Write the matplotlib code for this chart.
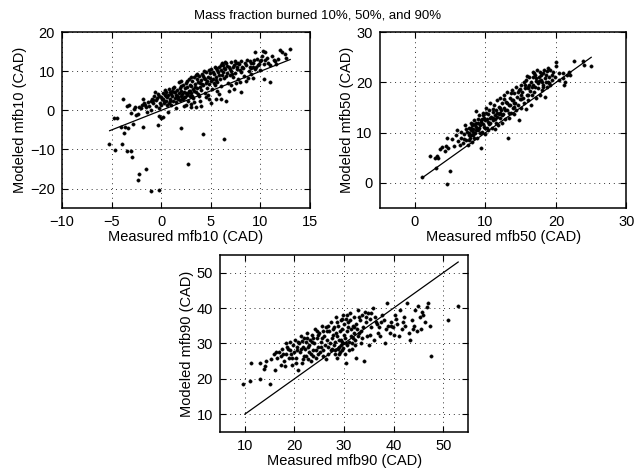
import matplotlib
matplotlib.use("Agg")
import matplotlib.pyplot as plt

plt.rcParams['font.family'] = ['Liberation Sans', 'DejaVu Sans']

title_text = "Mass fraction burned 10%, 50%, and 90%"

# (measured, modeled) pairs
mfb10_points = [
    (-5.3, -8.5), (-4.7, -10.2), (-4.0, -8.7), (-3.5, -10.5), (-3.0, -10.5), (-2.9, -12.0),
    (-2.2, -16.3), (-2.3, -17.8), (-1.5, -15.0), (-1.0, -20.7), (-0.2, -20.4), (2.7, -13.8),
    (6.3, -7.2), (4.2, -6.0), (2.0, -4.5), (-1.8, -4.3), (-3.3, -4.4), (-3.8, -5.7),
    (-2.8, -3.6), (-4.8, -2.0), (-4.5, -2.0), (-4.1, -4.3), (-3.7, -4.2), (-0.3, -3.7),
    (0.0, -2.0), (-0.2, -1.5), (0.2, -1.8), (10.4, 8.0), (11.0, 7.3), (8.0, 4.8),
    (7.0, 6.5), (8.7, 8.3), (4.5, 3.5), (5.0, 2.0), (3.0, 1.7), (4.0, 1.0), (3.5, 0.8),
    (5.5, 3.0), (6.0, 2.8), (7.5, 7.0), (6.5, 2.5), (12.0, 15.5), (12.5, 14.5), (13.0, 15.8),
    (9.5, 15.0), (10.5, 15.0), (10.3, 15.3),
    (-3.5, 1.2), (-3.2, 1.5), (-3.9, 2.9), (-3.0, -0.8), (-2.7, 0.3), (-2.5, -1.2),
    (-2.3, -1.0), (-2.0, 0.5), (-1.8, 3.0), (-1.7, 2.0), (-1.5, 0.8), (-1.4, -0.5),
    (-1.2, 1.2), (-1.0, 2.5), (-1.0, 0.2), (-0.8, 1.8), (-0.7, 3.6), (-0.6, 4.8),
    (-0.5, 1.0), (-0.5, 2.7), (-0.4, 3.2), (-0.3, 4.2), (-0.2, 0.5), (-0.1, 2.0),
    (0.0, 3.5), (0.0, 1.3), (0.1, 2.8), (0.2, 4.5), (0.2, 3.0), (0.3, 1.8), (0.4, 5.2),
    (0.5, 2.4), (0.5, 3.8), (0.6, 3.3), (0.7, 4.0), (0.8, 2.0), (0.8, 5.5), (0.9, 3.0),
    (1.0, 4.3), (1.0, 1.5), (1.1, 3.6), (1.2, 2.5), (1.3, 4.8), (1.3, 6.0), (1.4, 3.2),
    (1.5, 4.0), (1.5, 2.2), (1.6, 5.3), (1.7, 3.5), (1.8, 4.4), (1.8, 7.2), (1.9, 2.7),
    (2.0, 3.8), (2.0, 5.0), (2.0, 7.5), (2.1, 4.2), (2.2, 3.0), (2.2, 6.5), (2.3, 4.8),
    (2.4, 3.5), (2.4, 5.6), (2.5, 7.0), (2.6, 4.0), (2.6, 6.0), (2.7, 2.5), (2.8, 5.0),
    (2.8, 8.0), (2.9, 3.8), (3.0, 6.2), (3.0, 4.5), (3.1, 7.6), (3.2, 5.5), (3.2, 3.2),
    (3.3, 8.5), (3.4, 6.8), (3.5, 4.8), (3.5, 9.0), (3.6, 5.8), (3.7, 7.2), (3.8, 3.8),
    (3.8, 8.8), (3.9, 6.0), (4.0, 7.8), (4.0, 5.2), (4.1, 9.3), (4.2, 6.5), (4.3, 8.2),
    (4.4, 4.5), (4.5, 7.0), (4.5, 9.8), (4.6, 5.8), (4.7, 8.6), (4.8, 6.8), (4.9, 9.5),
    (5.0, 7.5), (5.0, 10.5), (5.1, 5.5), (5.2, 8.0), (5.3, 9.2), (5.4, 6.5), (5.5, 10.8),
    (5.5, 8.5), (5.6, 7.2), (5.7, 9.8), (5.8, 11.2), (5.9, 8.0), (6.0, 10.2), (6.0, 6.2),
    (6.1, 9.0), (6.2, 11.5), (6.3, 8.3), (6.4, 10.5), (6.5, 12.0), (6.6, 9.5), (6.7, 7.0),
    (6.8, 11.0), (6.9, 9.0), (7.0, 12.3), (7.0, 10.0), (7.2, 8.5), (7.3, 11.5), (7.4, 9.5),
    (7.5, 12.0), (7.6, 10.5), (7.7, 8.0), (7.8, 11.8), (8.0, 9.8), (8.0, 12.5), (8.2, 10.8),
    (8.3, 8.8), (8.5, 11.5), (8.6, 13.0), (8.8, 10.0), (9.0, 12.0), (9.0, 9.3), (9.2, 11.0),
    (9.4, 12.8), (9.5, 10.5), (9.7, 13.2), (9.8, 11.5), (10.0, 12.5), (10.0, 10.2),
    (10.2, 14.0), (10.4, 11.8), (10.5, 12.8), (10.7, 13.5), (11.0, 11.5), (11.2, 13.8),
    (11.5, 12.5), (11.8, 13.2), (12.2, 14.8), (8.5, 7.5), (9.3, 8.2), (7.3, 5.5), (6.8, 5.0),
    (4.8, 3.0), (5.8, 4.2), (3.0, 0.8), (2.5, 1.5), (1.5, 0.5), (0.7, -0.5),
    (-2.2, 0.8), (-1.6, 1.5), (-0.9, 3.0), (0.3, 2.5), (0.9, 4.8), (1.4, 4.6), (2.1, 2.9),
    (2.7, 4.4), (3.3, 5.0), (3.9, 7.0), (4.4, 8.0), (5.3, 7.0), (6.2, 9.8), (7.1, 9.2),
    (7.9, 10.4), (8.9, 11.2), (9.9, 11.8), (-1.3, 2.2), (0.6, 1.4), (1.7, 2.9), (2.9, 6.6),
    (3.6, 8.0), (4.3, 10.0), (5.6, 10.2), (6.6, 11.3), (7.7, 12.2), (6.1, 12.2),
    (0.4, 3.9), (0.9, 2.4), (1.1, 5.0), (1.6, 3.8), (1.9, 5.8), (2.3, 3.3), (2.5, 4.5),
    (2.9, 4.9), (3.1, 3.6), (3.4, 5.9), (3.7, 4.3), (4.1, 6.8), (4.6, 7.5), (4.9, 8.2),
    (5.2, 9.8), (5.5, 7.8), (5.8, 9.0), (6.3, 10.8), (6.5, 8.8), (6.9, 10.5), (7.2, 11.0),
    (7.6, 11.2), (8.1, 11.0), (8.4, 12.0), (8.9, 12.5), (9.3, 12.0), (9.6, 11.0), (10.1, 13.0),
    (10.8, 12.2), (11.4, 13.0), (6.0, 11.5), (5.4, 11.0), (4.8, 10.2), (4.2, 8.8), (3.6, 9.2),
    (3.0, 8.5), (2.6, 7.5), (2.0, 6.3), (1.2, 5.6), (0.5, 4.6), (-0.2, 3.8), (-0.8, 2.6),
    (-1.9, 1.3), (-2.6, 0.9), (7.9, 7.3), (9.0, 10.8), (11.6, 11.8), (12.6, 13.5), (6.4, 12.3),
    (7.4, 12.5), (3.3, 2.2), (2.3, 1.2), (4.7, 4.0), (5.6, 5.0), (3.9, 2.4),
]

mfb50_points = [
    (1.0, 1.2), (3.0, 3.0), (2.2, 5.3), (2.9, 5.0), (3.1, 5.4), (3.3, 4.9), (3.5, 6.8),
    (3.9, 7.1), (4.2, 6.3), (4.4, 7.4), (4.5, 9.0), (4.7, 7.0), (5.0, 2.4), (4.6, -0.3),
    (5.2, 8.8), (5.5, 7.3), (5.8, 9.5), (6.0, 10.6), (6.1, 8.4), (6.4, 7.5), (6.6, 9.0),
    (6.8, 8.0), (7.0, 9.8), (7.1, 11.5), (7.2, 8.5), (7.4, 10.2), (7.5, 7.5), (7.6, 11.0),
    (7.8, 9.0), (7.9, 12.0), (8.0, 10.5), (8.1, 8.2), (8.2, 11.8), (8.3, 9.5), (8.4, 12.5),
    (8.5, 10.0), (8.6, 14.3), (8.7, 11.2), (8.8, 9.0), (8.9, 12.8), (9.0, 10.8), (9.1, 13.5),
    (9.2, 11.5), (9.3, 7.0), (9.4, 12.2), (9.5, 10.2), (9.6, 14.0), (9.7, 11.8), (9.8, 13.0),
    (9.9, 9.8), (10.0, 12.5), (10.1, 15.0), (10.2, 11.0), (10.3, 13.8), (10.4, 10.5),
    (10.5, 14.5), (10.6, 12.0), (10.7, 16.0), (10.8, 13.2), (10.9, 11.0), (11.0, 14.8),
    (11.1, 12.5), (11.2, 15.5), (11.3, 10.8), (11.4, 13.5), (11.5, 12.0), (11.6, 16.5),
    (11.7, 14.0), (11.8, 11.5), (11.9, 15.2), (12.0, 13.0), (12.1, 17.0), (12.2, 14.5),
    (12.3, 12.0), (12.4, 16.0), (12.5, 13.8), (12.6, 15.0), (12.7, 17.5), (12.8, 12.8),
    (12.9, 16.2), (13.0, 14.5), (13.2, 9.0), (13.1, 18.0), (13.3, 15.5), (13.4, 13.0),
    (13.5, 17.0), (13.6, 14.0), (13.7, 16.5), (13.8, 18.5), (13.9, 15.0), (14.0, 13.8),
    (14.1, 17.8), (14.2, 16.0), (14.3, 19.0), (14.4, 14.5), (14.5, 17.2), (14.6, 15.5),
    (14.7, 18.5), (14.8, 12.5), (14.9, 16.8), (15.0, 19.5), (15.1, 15.0), (15.2, 18.0),
    (15.3, 17.0), (15.4, 20.0), (15.5, 16.0), (15.6, 18.8), (15.7, 14.8), (15.8, 20.5),
    (15.9, 17.5), (16.0, 19.0), (16.1, 16.5), (16.2, 21.0), (16.3, 18.2), (16.4, 15.5),
    (16.5, 20.0), (16.6, 17.5), (16.7, 22.0), (16.8, 19.5), (16.9, 18.0), (17.0, 21.5),
    (17.1, 17.0), (17.2, 20.3), (17.3, 22.5), (17.4, 18.8), (17.5, 19.8), (17.6, 21.0),
    (17.7, 17.5), (17.8, 22.0), (17.9, 20.5), (18.0, 18.5), (18.1, 21.8), (18.2, 19.5),
    (18.3, 22.5), (18.4, 17.2), (18.5, 20.8), (18.6, 21.5), (18.7, 19.0), (18.8, 22.2),
    (18.9, 20.0), (19.0, 21.0), (19.2, 19.5), (19.4, 20.5), (19.6, 22.0), (19.8, 21.0),
    (20.0, 24.0), (20.0, 23.3), (20.5, 20.5), (21.0, 20.8), (21.2, 19.5), (21.3, 20.0),
    (21.5, 21.5), (21.8, 22.0), (22.0, 21.5), (22.5, 24.3), (23.8, 24.2), (25.0, 23.3),
    (24.0, 23.5), (16.7, 21.0), (16.2, 19.5), (7.3, 10.8), (7.7, 10.0), (8.0, 9.5),
    (8.2, 10.8), (8.5, 11.5), (8.7, 10.5), (9.0, 12.0), (9.2, 10.0), (8.4, 9.0), (7.9, 11.0),
    (10.0, 11.0), (10.5, 11.8), (11.0, 13.0), (11.5, 14.5), (12.0, 15.0), (9.5, 12.8),
    (10.2, 12.8), (11.3, 12.8), (12.8, 14.5), (13.5, 15.5), (14.0, 16.0), (15.0, 16.8),
    (16.0, 17.5), (17.0, 19.0), (18.0, 20.0), (19.0, 19.8),
    (6.5, 10.2), (7.0, 8.8), (7.6, 9.5), (8.1, 11.6), (8.6, 12.0), (9.1, 11.0), (9.6, 13.5),
    (10.1, 14.0), (10.6, 13.0), (11.1, 14.2), (11.6, 13.2), (12.1, 14.0), (12.6, 16.8),
    (13.1, 16.0), (13.6, 17.8), (14.1, 15.2), (14.6, 18.0), (15.1, 17.5), (15.6, 19.5),
    (16.1, 18.8), (16.6, 19.0), (17.1, 20.8), (17.6, 20.2), (18.1, 19.0), (18.6, 20.0),
    (19.1, 22.5), (19.5, 21.5), (12.3, 13.5), (11.9, 13.8), (10.4, 12.2), (9.8, 11.2),
    (9.3, 12.5), (8.9, 10.5), (8.3, 10.2), (7.7, 8.6), (13.9, 16.6), (14.9, 18.6),
    (15.9, 21.2), (16.9, 21.8), (17.9, 21.5), (18.9, 22.8), (20.5, 21.8), (21.0, 21.9),
    (13.3, 14.0),
]

mfb90_points = [
    (9.7, 18.5), (11.0, 19.5), (11.3, 24.5), (13.0, 20.0), (13.0, 24.5), (13.8, 22.8),
    (14.2, 25.0), (14.0, 23.5), (15.0, 18.5), (15.2, 25.5), (15.8, 27.0), (16.0, 22.5),
    (16.5, 26.0), (16.8, 27.5), (17.2, 26.5), (17.5, 28.5), (17.8, 25.0), (18.0, 23.5),
    (18.2, 27.0), (18.5, 29.0), (18.8, 26.0), (19.0, 30.5), (19.2, 28.0), (19.5, 24.0),
    (19.8, 29.5), (20.0, 27.5), (20.2, 31.0), (20.4, 26.0), (20.6, 29.0), (20.8, 22.5),
    (21.0, 30.0), (21.2, 27.5), (21.4, 32.0), (21.5, 24.5), (21.7, 29.0), (21.9, 31.5),
    (22.0, 26.5), (22.2, 28.5), (22.4, 30.5), (22.6, 33.0), (22.8, 25.5), (23.0, 29.5),
    (23.2, 31.0), (23.4, 27.0), (23.6, 32.5), (23.8, 28.0), (24.0, 30.0), (24.2, 34.0),
    (24.4, 26.0), (24.6, 31.5), (24.8, 29.0), (25.0, 33.0), (25.2, 27.5), (25.4, 30.5),
    (25.6, 35.0), (25.8, 26.5), (26.0, 32.0), (26.2, 29.5), (26.4, 34.5), (26.6, 31.0),
    (26.8, 27.0), (27.0, 33.5), (27.2, 30.0), (27.4, 36.0), (27.6, 28.5), (27.8, 32.5),
    (28.0, 34.5), (28.1, 27.0), (28.2, 30.5), (28.4, 37.5), (28.5, 26.0), (28.6, 32.0),
    (28.8, 35.0), (29.0, 29.0), (29.1, 33.5), (29.2, 27.5), (29.3, 36.5), (29.4, 31.0),
    (29.5, 34.0), (29.6, 28.0), (29.7, 38.0), (29.8, 30.0), (29.9, 32.5), (30.0, 35.5),
    (30.1, 27.0), (30.2, 31.5), (30.3, 24.5), (30.4, 37.0), (30.5, 29.5), (30.6, 33.5),
    (30.8, 36.0), (31.0, 30.5), (31.2, 38.5), (31.4, 32.0), (31.6, 28.5), (31.8, 35.0),
    (32.0, 37.5), (32.2, 31.0), (32.4, 26.0), (32.6, 34.0), (32.8, 39.5), (33.0, 33.0),
    (33.2, 36.5), (33.4, 30.0), (33.6, 38.0), (33.8, 34.5), (34.0, 25.0), (34.2, 39.0),
    (34.4, 36.0), (34.6, 32.0), (34.8, 38.5), (35.0, 29.5), (35.2, 37.0), (35.5, 34.5),
    (35.8, 40.0), (36.0, 31.0), (36.3, 37.5), (36.6, 35.5), (37.0, 34.5), (37.3, 32.0),
    (37.6, 38.0), (38.0, 36.5), (38.3, 30.0), (38.6, 41.5), (38.9, 35.0), (39.2, 33.0),
    (39.5, 36.0), (39.8, 34.5), (40.0, 32.5), (40.3, 38.0), (40.6, 35.5), (41.0, 32.0),
    (41.3, 39.5), (41.6, 34.0), (42.0, 37.5), (42.3, 35.0), (42.6, 41.5), (43.0, 33.0),
    (43.3, 31.0), (43.6, 36.5), (44.0, 35.0), (44.3, 39.5), (44.6, 33.5), (45.0, 40.5),
    (45.3, 37.5), (45.6, 34.0), (46.0, 38.0), (46.3, 36.0), (46.8, 40.2), (47.0, 41.3),
    (47.3, 35.0), (47.5, 26.3), (51.0, 36.5), (53.0, 40.5),
    (22.5, 31.5), (23.5, 30.5), (24.5, 33.5), (25.5, 31.5), (26.5, 33.5), (27.5, 31.5),
    (28.3, 33.0), (28.9, 31.0), (29.6, 30.5), (30.7, 34.5), (31.3, 34.0), (31.9, 33.0),
    (32.5, 35.5), (33.1, 37.5), (27.9, 29.5), (28.7, 28.5), (29.3, 29.5), (30.9, 28.0),
    (31.5, 30.0), (26.3, 25.5), (25.3, 29.0), (24.3, 28.0), (23.3, 25.0), (22.3, 26.5),
    (21.3, 28.5), (20.3, 24.5), (19.3, 27.0), (18.3, 30.0), (17.3, 24.0), (16.3, 27.5),
    (20.7, 30.5), (21.6, 30.8), (22.7, 29.0), (23.7, 31.5), (24.7, 32.5), (25.7, 33.5),
    (26.7, 35.0), (27.7, 34.0), (28.6, 36.0), (29.5, 37.0), (30.6, 38.0), (31.1, 36.5),
    (32.1, 34.5), (32.9, 32.0), (33.5, 33.5), (34.5, 37.5), (35.5, 38.5), (36.5, 36.0),
    (37.5, 36.0), (38.5, 34.0), (39.5, 35.0), (40.5, 37.0), (28.2, 28.0), (29.0, 27.0),
    (29.8, 28.8), (30.3, 30.0), (27.3, 28.0), (26.7, 29.0), (25.7, 28.0), (24.7, 27.0),
    (23.8, 26.5), (22.9, 27.5), (21.8, 25.5), (20.5, 28.0), (19.6, 26.0), (18.7, 28.5),
    (17.7, 27.0), (31.7, 31.5), (32.3, 29.5), (33.7, 31.5), (35.3, 32.5), (36.8, 33.0),
    (41.8, 36.0), (43.8, 34.0), (45.8, 39.0),
]

# reference (y = x) line endpoints
line10 = [-5.2, 13.0]
line50 = [1.0, 25.0]
line90 = [10.0, 53.0]

panels = [
    dict(points=mfb10_points, line=line10, xlim=(-10, 15), ylim=(-25, 20),
         xticks=[-10, -5, 0, 5, 10, 15], yticks=[-20, -10, 0, 10, 20],
         xlabel="Measured mfb10 (CAD)", ylabel="Modeled mfb10 (CAD)",
         rect=[0.0975, 0.560, 0.390, 0.372]),
    dict(points=mfb50_points, line=line50, xlim=(-5, 30), ylim=(-5, 30),
         xticks=[0, 10, 20, 30], yticks=[0, 10, 20, 30],
         xlabel="Measured mfb50 (CAD)", ylabel="Modeled mfb50 (CAD)",
         rect=[0.597, 0.560, 0.388, 0.372]),
    dict(points=mfb90_points, line=line90, xlim=(5, 55), ylim=(5, 55),
         xticks=[10, 20, 30, 40, 50], yticks=[10, 20, 30, 40, 50],
         xlabel="Measured mfb90 (CAD)", ylabel="Modeled mfb90 (CAD)",
         rect=[0.346, 0.087, 0.390, 0.374]),
]

fig = plt.figure(figsize=(6.36, 4.73), dpi=100)
fig.patch.set_facecolor('white')

for p in panels:
    ax = fig.add_axes(p['rect'])
    xs = [pt[0] for pt in p['points']]
    ys = [pt[1] for pt in p['points']]
    ax.plot(p['line'], p['line'], color='black', linewidth=0.9, zorder=2)
    ax.plot(xs, ys, linestyle='none', marker='o', markersize=2.5,
            markerfacecolor='black', markeredgecolor='black', markeredgewidth=0.2, zorder=3)
    ax.set_xlim(*p['xlim'])
    ax.set_ylim(*p['ylim'])
    ax.set_xticks(p['xticks'])
    ax.set_yticks(p['yticks'])
    ax.set_xticklabels([f"\u2212{abs(v)}" if v < 0 else str(v) for v in p['xticks']])
    ax.set_yticklabels([f"\u2212{abs(v)}" if v < 0 else str(v) for v in p['yticks']])
    ax.grid(True, color='black', linestyle=(0, (1, 4)), linewidth=0.7, alpha=0.8)
    ax.tick_params(direction='in', length=4, width=0.8, labelsize=10.5,
                   top=True, right=True, pad=5)
    for s in ax.spines.values():
        s.set_linewidth(1.1)
    ax.set_xlabel(p['xlabel'], fontsize=10.5, labelpad=1)
    ax.set_ylabel(p['ylabel'], fontsize=10.5, labelpad=2)

fig.text(0.5, 0.968, title_text, ha='center', va='center', fontsize=9.5)

fig.savefig("out.png", dpi=100)
